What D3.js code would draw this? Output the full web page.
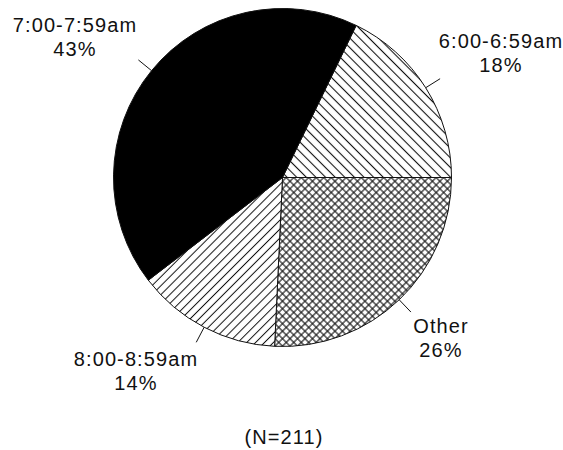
<!DOCTYPE html>
<html>
<head>
<meta charset="utf-8">
<script src="https://cdn.jsdelivr.net/npm/d3@7/dist/d3.min.js"></script>
<style>
  html, body { margin: 0; padding: 0; background: #fff; }
  svg { display: block; }
  text { font-family: "Liberation Sans", Arial, Helvetica, sans-serif; font-size: 20px; fill: #111; letter-spacing: 1.1px; }
</style>
</head>
<body>
<div id="chart"></div>
<script>
// Arrival time distribution (percent of respondents), clockwise from the 6:00 slice
const categories = ["6:00-6:59am", "Other", "8:00-8:59am", "7:00-7:59am"];
const percents = [18, 26, 14, 43];
const fills = ["hatchDown", "crossHatch", "hatchUp", "solid"];
const sampleNote = "(N=211)";

const width = 563, height = 450;
const cx = 282.5, cy = 177.5, radius = 169;

// label centres (first-line baseline), by slice
const labelPos = [
  { x: 501, y: 48 },
  { x: 441, y: 333 },
  { x: 136, y: 366 },
  { x: 75,  y: 32 }
];

const svg = d3.select("#chart").append("svg")
  .attr("width", width).attr("height", height);

const defs = svg.append("defs");

function linePattern(id, angle, spacing, sw, double) {
  const p = defs.append("pattern")
    .attr("id", id)
    .attr("patternUnits", "userSpaceOnUse")
    .attr("width", spacing).attr("height", spacing)
    .attr("patternTransform", `rotate(${angle})`);
  p.append("rect").attr("width", spacing).attr("height", spacing).attr("fill", "#fff");
  p.append("line").attr("x1", spacing / 2).attr("y1", 0).attr("x2", spacing / 2).attr("y2", spacing)
    .attr("stroke", "#111").attr("stroke-width", sw);
  if (double) {
    p.append("line").attr("x1", 0).attr("y1", spacing / 2).attr("x2", spacing).attr("y2", spacing / 2)
      .attr("stroke", "#111").attr("stroke-width", sw);
  }
}
linePattern("hatchDown", -45, 6.8, 1.1, false);
linePattern("hatchUp", 45, 6.3, 1.0, false);
linePattern("crossHatch", 45, 5.3, 1.1, true);

const fillFor = k => k === "solid" ? "#000" : `url(#${k})`;

// the 6:00 slice ends at three o'clock, so "Other" starts there
const total = d3.sum(percents);
const start = Math.PI / 2 - (percents[0] / total) * 2 * Math.PI;

const pie = d3.pie().sort(null).value(d => d.value)
  .startAngle(start).endAngle(start + 2 * Math.PI);

const data = categories.map((c, i) => ({ name: c, value: percents[i], fill: fills[i], label: labelPos[i] }));
const arcs = pie(data);

const arc = d3.arc().innerRadius(0).outerRadius(radius);
const g = svg.append("g").attr("transform", `translate(${cx},${cy})`);

g.selectAll("path.slice")
  .data(arcs)
  .join("path")
  .attr("class", "slice")
  .attr("d", arc)
  .attr("fill", d => fillFor(d.data.fill))
  .attr("stroke", "#111")
  .attr("stroke-width", 1)
  .attr("stroke-linejoin", "round");

// short leader ticks at each slice's mid angle
const mid = d => (d.startAngle + d.endAngle) / 2;
const tickLen = 17;
g.selectAll("line.leader")
  .data(arcs)
  .join("line")
  .attr("class", "leader")
  .attr("x1", d => Math.sin(mid(d)) * radius)
  .attr("y1", d => -Math.cos(mid(d)) * radius)
  .attr("x2", d => Math.sin(mid(d)) * (radius + tickLen))
  .attr("y2", d => -Math.cos(mid(d)) * (radius + tickLen))
  .attr("stroke", "#111")
  .attr("stroke-width", 1);

// two-line labels: name and percent
const labels = svg.selectAll("g.label")
  .data(arcs)
  .join("g")
  .attr("class", "label")
  .attr("transform", d => `translate(${d.data.label.x},${d.data.label.y})`);

labels.append("text")
  .attr("text-anchor", "middle")
  .text(d => d.data.name);
labels.append("text")
  .attr("text-anchor", "middle")
  .attr("y", 24)
  .text(d => d.data.value + "%");

svg.append("text")
  .attr("x", 284).attr("y", 444)
  .attr("text-anchor", "middle")
  .text(sampleNote);
</script>
</body>
</html>
